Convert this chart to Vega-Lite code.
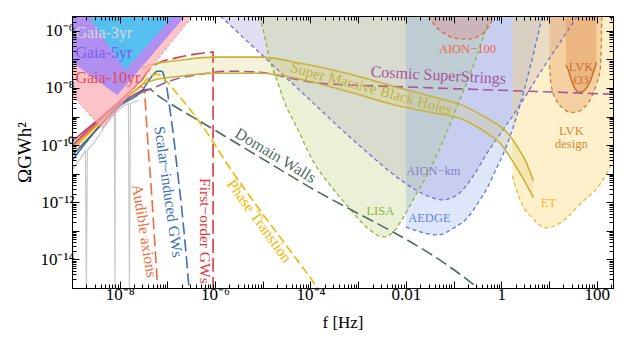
{
"$schema": "https://vega.github.io/schema/vega-lite/v6.json",
"width": 541, "height": 272,
"autosize": {"type": "none"},
"padding": {"left": 72, "top": 16, "right": 11, "bottom": 52},
"background": "white",
"config": {"view": {"stroke": "black", "strokeWidth": 1}},
"datasets": {
"d": [
{"k":"g10","f":1e-9,"o":5.53e-9},{"k":"g10","f":4.34e-9,"o":3.83e-10},{"k":"g10","f":3.34e-7,"o":3.31e-6},
{"k":"g5","f":1e-9,"o":8.0e-8},{"k":"g5","f":8.95e-9,"o":5.53e-9},{"k":"g5","f":2.38e-7,"o":3.31e-6},
{"k":"g3","f":2.21e-9,"o":3.31e-6},{"k":"g3","f":1.32e-8,"o":4.19e-8},{"k":"g3","f":1.34e-7,"o":3.31e-6},
{"k":"LISA","f":8.49e-6,"o":3.31e-6},{"k":"LISA","f":9.82e-6,"o":1.36e-6},{"k":"LISA","f":1.44e-5,"o":8.67e-8},{"k":"LISA","f":2.02e-5,"o":1.72e-8},{"k":"LISA","f":2.98e-5,"o":2.67e-9},{"k":"LISA","f":4.82e-5,"o":5.30e-10},{"k":"LISA","f":1.15e-4,"o":2.65e-11},{"k":"LISA","f":2.62e-4,"o":3.80e-12},{"k":"LISA","f":5.94e-4,"o":7.53e-13},{"k":"LISA","f":1.56e-3,"o":1.27e-13},{"k":"LISA","f":3.38e-3,"o":6.12e-14},{"k":"LISA","f":5.47e-3,"o":9.17e-14},{"k":"LISA","f":8.45e-3,"o":2.63e-13},{"k":"LISA","f":1.58e-2,"o":1.69e-12},{"k":"LISA","f":3.27e-2,"o":1.50e-11},{"k":"LISA","f":6.73e-2,"o":2.17e-10},{"k":"LISA","f":1.39e-1,"o":4.35e-9},{"k":"LISA","f":2.86e-1,"o":9.41e-8},{"k":"LISA","f":5.11e-1,"o":1.60e-6},{"k":"LISA","f":5.90e-1,"o":3.31e-6},
{"k":"AIONkm","f":1.29e-6,"o":3.31e-6},{"k":"AIONkm","f":5.50e-6,"o":3.44e-7},{"k":"AIONkm","f":2.34e-5,"o":3.56e-8},{"k":"AIONkm","f":9.96e-5,"o":3.70e-9},{"k":"AIONkm","f":4.24e-4,"o":3.83e-10},{"k":"AIONkm","f":1.56e-3,"o":5.49e-11},{"k":"AIONkm","f":7.67e-3,"o":6.18e-12},{"k":"AIONkm","f":2.82e-2,"o":1.69e-12},{"k":"AIONkm","f":5.80e-2,"o":1.22e-12},{"k":"AIONkm","f":1.20e-1,"o":1.84e-12},{"k":"AIONkm","f":2.60e-1,"o":8.54e-12},{"k":"AIONkm","f":5.11e-1,"o":5.49e-11},{"k":"AIONkm","f":1.22,"o":4.51e-10},{"k":"AIONkm","f":2.51,"o":2.67e-9},{"k":"AIONkm","f":6.61,"o":3.56e-8},{"k":"AIONkm","f":17.3,"o":4.04e-7},{"k":"AIONkm","f":39.4,"o":3.31e-6},
{"k":"AEDGE","f":0.01,"o":1.37e-13},{"k":"AEDGE","f":2.02e-2,"o":9.17e-14},{"k":"AEDGE","f":4.58e-2,"o":7.19e-14},{"k":"AEDGE","f":1.09e-1,"o":1.37e-13},{"k":"AEDGE","f":1.95e-1,"o":2.85e-13},{"k":"AEDGE","f":3.15e-1,"o":8.85e-13},{"k":"AEDGE","f":5.11e-1,"o":3.24e-12},{"k":"AEDGE","f":7.52e-1,"o":1.28e-11},{"k":"AEDGE","f":1.11,"o":5.07e-11},{"k":"AEDGE","f":1.55,"o":2.17e-10},{"k":"AEDGE","f":2.29,"o":1.64e-9},{"k":"AEDGE","f":4.07,"o":5.79e-8},{"k":"AEDGE","f":7.28,"o":3.31e-6},
{"k":"AION100","f":2.97e-2,"o":3.31e-6},{"k":"AION100","f":4.16e-2,"o":1.48e-6},{"k":"AION100","f":6.73e-2,"o":7.72e-7},{"k":"AION100","f":1.09e-1,"o":5.58e-7},{"k":"AION100","f":1.95e-1,"o":5.15e-7},{"k":"AION100","f":3.31e-1,"o":6.56e-7},{"k":"AION100","f":4.87e-1,"o":1.07e-6},{"k":"AION100","f":6.50e-1,"o":2.40e-6},{"k":"AION100","f":7.16e-1,"o":3.31e-6},
{"k":"ET","f":1.71,"o":8.54e-12},{"k":"ET","f":2.51,"o":1.13e-12},{"k":"ET","f":4.71,"o":2.63e-13},{"k":"ET","f":8.41,"o":1.27e-13},{"k":"ET","f":17.3,"o":1.90e-13},{"k":"ET","f":45.5,"o":8.85e-13},{"k":"ET","f":119.7,"o":4.46e-12},{"k":"ET","f":224,"o":2.87e-11},
{"k":"LVKd","f":10.2,"o":6.28e-8},{"k":"LVKd","f":11.2,"o":1.24e-8},{"k":"LVKd","f":14.3,"o":3.70e-9},{"k":"LVKd","f":20.0,"o":1.93e-9},{"k":"LVKd","f":28.1,"o":1.40e-9},{"k":"LVKd","f":41.3,"o":1.52e-9},{"k":"LVKd","f":57.9,"o":2.28e-9},{"k":"LVKd","f":77.4,"o":4.71e-9},{"k":"LVKd","f":98.6,"o":1.35e-8},{"k":"LVKd","f":119.7,"o":4.92e-8},{"k":"LVKd","f":128.5,"o":3.31e-6},
{"k":"O3","f":22.6,"o":6.28e-8},{"k":"O3","f":25.5,"o":4.19e-8},{"k":"O3","f":29.5,"o":1.87e-8},{"k":"O3","f":35.8,"o":9.00e-9},{"k":"O3","f":43.4,"o":7.06e-9},{"k":"O3","f":55.2,"o":8.30e-9},{"k":"O3","f":70.3,"o":1.46e-8},{"k":"O3","f":85.3,"o":3.56e-8},{"k":"O3","f":98.6,"o":8.00e-8},
{"k":"pta","f":1e-9,"o":1.28e-11},{"k":"pta","f":1.50e-9,"o":3.38e-11},{"k":"pta","f":1.91e-9,"o":6.46e-11},{"k":"pta","f":2.00e-9,"o":8e-16},{"k":"pta","f":2.10e-9,"o":6.46e-11},{"k":"pta","f":3.10e-9,"o":1.45e-10},{"k":"pta","f":3.94e-9,"o":2.56e-10},{"k":"pta","f":5.01e-9,"o":4.89e-10},{"k":"pta","f":6.38e-9,"o":8.61e-10},{"k":"pta","f":7.74e-9,"o":1.29e-9},{"k":"pta","f":7.94e-9,"o":8e-16},{"k":"pta","f":8.13e-9,"o":1.29e-9},{"k":"pta","f":1.035e-8,"o":1.93e-9},{"k":"pta","f":1.52e-8,"o":2.90e-9},{"k":"pta","f":1.60e-8,"o":8e-16},{"k":"pta","f":1.68e-8,"o":2.90e-9},{"k":"pta","f":2.47e-8,"o":3.70e-9},
{"k":"red_s","f":1e-9,"o":1.34e-10},{"k":"red_s","f":3.58e-9,"o":7.94e-10},{"k":"red_s","f":1.035e-8,"o":3.70e-9},{"k":"red_s","f":2.99e-8,"o":2.02e-8},
{"k":"blue_s","f":1e-9,"o":2.87e-11},{"k":"blue_s","f":3.58e-9,"o":4.16e-10},{"k":"blue_s","f":1.035e-8,"o":2.46e-9},{"k":"blue_s","f":2.99e-8,"o":8.30e-9},{"k":"blue_s","f":4.41e-8,"o":2.19e-8},{"k":"blue_s","f":6.17e-8,"o":3.86e-8},{"k":"blue_s","f":7.85e-8,"o":3.86e-8},
{"k":"orange_s","f":1e-9,"o":8.24e-11},{"k":"orange_s","f":3.58e-9,"o":6.23e-10},{"k":"orange_s","f":1.035e-8,"o":3.14e-9},{"k":"orange_s","f":2.47e-8,"o":9.76e-9},
{"k":"yellow_s","f":1e-9,"o":6.46e-11},{"k":"yellow_s","f":3.58e-9,"o":5.30e-10},{"k":"yellow_s","f":1.035e-8,"o":2.90e-9},{"k":"yellow_s","f":2.99e-8,"o":1.35e-8},
{"k":"green_s","f":1e-9,"o":4.31e-11},{"k":"green_s","f":3.58e-9,"o":4.16e-10},{"k":"green_s","f":1.035e-8,"o":2.67e-9},{"k":"green_s","f":2.99e-8,"o":8.30e-9},
{"k":"purple_s","f":1e-9,"o":9.68e-11},{"k":"purple_s","f":3.58e-9,"o":7.32e-10},{"k":"purple_s","f":1.035e-8,"o":3.14e-9},{"k":"purple_s","f":2.99e-8,"o":7.06e-9},
{"k":"red_d","f":2.99e-8,"o":2.02e-8},{"k":"red_d","f":4.41e-8,"o":4.92e-8},{"k":"red_d","f":7.13e-8,"o":8.00e-8},{"k":"red_d","f":1.47e-7,"o":1.11e-7},{"k":"red_d","f":3.86e-7,"o":1.53e-7},{"k":"red_d","f":9.08e-7,"o":1.80e-7},{"k":"red_d","f":9.09e-7,"o":5e-16},
{"k":"blue_d","f":7.85e-8,"o":3.86e-8},{"k":"blue_d","f":9.53e-8,"o":1.24e-8},{"k":"blue_d","f":1.10e-7,"o":2.46e-9},{"k":"blue_d","f":1.34e-7,"o":2.17e-10},{"k":"blue_d","f":1.62e-7,"o":1.28e-11},{"k":"blue_d","f":1.97e-7,"o":7.53e-13},{"k":"blue_d","f":2.38e-7,"o":2.96e-14},{"k":"blue_d","f":2.89e-7,"o":7e-16},
{"k":"orange_d","f":2.47e-8,"o":9.76e-9},{"k":"orange_d","f":2.85e-8,"o":1.15e-8},{"k":"orange_d","f":3.30e-8,"o":7.06e-9},{"k":"orange_d","f":3.63e-8,"o":7.32e-10},{"k":"orange_d","f":4.00e-8,"o":6.46e-11},{"k":"orange_d","f":4.62e-8,"o":2.53e-12},{"k":"orange_d","f":5.34e-8,"o":6.12e-14},{"k":"orange_d","f":6.17e-8,"o":1.36e-15},{"k":"orange_d","f":6.32e-8,"o":7e-16},
{"k":"yellow_d","f":2.99e-8,"o":1.35e-8},{"k":"yellow_d","f":4.41e-8,"o":2.58e-8},{"k":"yellow_d","f":6.17e-8,"o":3.03e-8},{"k":"yellow_d","f":8.24e-8,"o":2.19e-8},{"k":"yellow_d","f":1.70e-7,"o":5.54e-9},{"k":"yellow_d","f":3.34e-7,"o":1.40e-9},{"k":"yellow_d","f":5.69e-7,"o":4.16e-10},{"k":"yellow_d","f":2.09e-6,"o":1.50e-11},{"k":"yellow_d","f":8.91e-6,"o":5.02e-13},{"k":"yellow_d","f":3.79e-5,"o":1.97e-14},{"k":"yellow_d","f":1.27e-4,"o":1.26e-15},{"k":"yellow_d","f":1.61e-4,"o":7e-16},
{"k":"green_d","f":2.99e-8,"o":8.30e-9},{"k":"green_d","f":4.00e-8,"o":9.00e-9},{"k":"green_d","f":7.13e-8,"o":4.71e-9},{"k":"green_d","f":7.96e-7,"o":4.16e-10},{"k":"green_d","f":6.14e-5,"o":5.26e-12},{"k":"green_d","f":2.86e-1,"o":1.16e-15},{"k":"green_d","f":3.65e-1,"o":8.3e-16},
{"k":"purple_d","f":2.99e-8,"o":7.06e-9},{"k":"purple_d","f":4.85e-8,"o":9.76e-9},{"k":"purple_d","f":1.47e-7,"o":2.02e-8},{"k":"purple_d","f":4.92e-7,"o":3.03e-8},{"k":"purple_d","f":2.09e-6,"o":3.86e-8},{"k":"purple_d","f":8.91e-6,"o":3.56e-8},{"k":"purple_d","f":3.79e-5,"o":2.19e-8},{"k":"purple_d","f":1.61e-4,"o":1.46e-8},{"k":"purple_d","f":1.11e-3,"o":1.24e-8},{"k":"purple_d","f":1.58e-2,"o":1.06e-8},{"k":"purple_d","f":9.57e-1,"o":8.30e-9},{"k":"purple_d","f":17.3,"o":7.06e-9},{"k":"purple_d","f":224,"o":6.01e-9}
],
"smbh": [
{"f":2.99e-8,"hi":4.92e-8,"lo":1.35e-8},{"f":5.09e-8,"hi":6.81e-8,"lo":1.87e-8},{"f":1.87e-7,"hi":9.41e-8,"lo":2.58e-8},{"f":9.21e-7,"hi":1.20e-7,"lo":3.29e-8},{"f":8.91e-6,"hi":1.20e-7,"lo":3.29e-8},{"f":6.14e-5,"hi":7.38e-8,"lo":2.02e-8},{"f":6.87e-4,"hi":3.03e-8,"lo":7.06e-9},{"f":7.67e-3,"hi":9.76e-9,"lo":2.28e-9},{"f":3.27e-2,"hi":5.11e-9,"lo":1.40e-9},{"f":1.39e-1,"hi":2.67e-9,"lo":8.61e-10},{"f":5.11e-1,"hi":8.61e-10,"lo":2.56e-10},{"f":9.57e-1,"hi":4.51e-10,"lo":1.14e-10},{"f":1.55,"hi":2.00e-10,"lo":3.66e-11},{"f":2.29,"hi":7.59e-11,"lo":1.28e-11},{"f":3.20,"hi":2.87e-11,"lo":4.84e-12},{"f":4.71,"hi":5.70e-12,"lo":1.44e-12}
],
"lab": [
{"id":"g3","t":"Gaia-3yr","f":1.18e-9,"o":5.58e-7},
{"id":"g5","t":"Gaia-5yr","f":1.18e-9,"o":1.11e-7},
{"id":"g10","t":"Gaia-10yr","f":1.18e-9,"o":1.46e-8},
{"id":"cs","t":"Cosmic SuperStrings","f":4.80e-2,"o":2.79e-8},
{"id":"smbh","t":"Super Massive Black Holes","f":1.89e-3,"o":9.76e-9},
{"id":"a100","t":"AION−100","f":1.95e-1,"o":2.29e-7},
{"id":"o3","t":"LVK\nO3","f":47,"o":5.34e-8},
{"id":"lvkd","t":"LVK\ndesign","f":29.5,"o":3.13e-10},
{"id":"dw","t":"Domain Walls","f":1.84e-5,"o":4.31e-11},
{"id":"akm","t":"AION−km","f":3.77e-2,"o":1.28e-11},
{"id":"lisa","t":"LISA","f":2.92e-3,"o":5.02e-13},
{"id":"aedge","t":"AEDGE","f":3.11e-2,"o":2.85e-13},
{"id":"et","t":"ET","f":9.72,"o":9.59e-13},
{"id":"pt","t":"Phase Transtion","f":8.49e-6,"o":2.23e-13},
{"id":"fo","t":"First−order GWs","f":6.26e-7,"o":9.95e-14},
{"id":"si","t":"Scalar−induced GWs","f":1.05e-7,"o":2.34e-12},
{"id":"ax","t":"Audible axions","f":3.30e-8,"o":9.95e-14}
]
},
"data": {"name": "d"},
"encoding": {
"x": {"field": "f", "type": "quantitative", "scale": {"type": "log", "domain": [1e-9, 220], "nice": false}, "axis": null},
"y": {"field": "o", "type": "quantitative", "scale": {"type": "log", "domain": [1e-15, 3.31e-6], "nice": false}, "axis": null}
},
"layer": [
{"transform": [{"filter": "datum.k=='AIONkm'"}], "mark": {"type": "area", "color": "#9a94d8", "opacity": 0.3, "clip": true, "interpolate": "monotone"},
 "encoding": {
  "x": {"field": "f", "type": "quantitative", "scale": {"type": "log", "domain": [1e-9, 220], "nice": false},
   "axis": {"orient": "bottom", "values": [1e-9,2e-9,3e-9,4e-9,5e-9,6e-9,7e-9,8e-9,9e-9,1e-8,2e-8,3e-8,4e-8,5e-8,6e-8,7e-8,8e-8,9e-8,1e-7,2e-7,3e-7,4e-7,5e-7,6e-7,7e-7,8e-7,9e-7,1e-6,2e-6,3e-6,4e-6,5e-6,6e-6,7e-6,8e-6,9e-6,1e-5,2e-5,3e-5,4e-5,5e-5,6e-5,7e-5,8e-5,9e-5,1e-4,2e-4,3e-4,4e-4,5e-4,6e-4,7e-4,8e-4,9e-4,0.001,0.002,0.003,0.004,0.005,0.006,0.007,0.008,0.009,0.01,0.02,0.03,0.04,0.05,0.06,0.07,0.08,0.09,0.1,0.2,0.3,0.4,0.5,0.6,0.7,0.8,0.9,1,2,3,4,5,6,7,8,9,10,20,30,40,50,60,70,80,90,100,200],
    "labelExpr": "datum.value==1e-8?'10⁻⁸':datum.value==1e-6?'10⁻⁶':datum.value==1e-4?'10⁻⁴':datum.value==0.01?'0.01':datum.value==1?'1':datum.value==100?'100':''",
    "tickSize": {"condition": {"test": "abs(log(datum.value)/LN10-round(log(datum.value)/LN10))<0.01", "value": -7}, "value": -4},
    "tickColor": "black", "tickWidth": 1, "domainColor": "black", "grid": false, "zindex": 1,
    "labelFont": "Liberation Serif", "labelFontSize": 17, "labelColor": "black", "labelPadding": 5, "labelOverlap": false, "labelFlush": false, "labelBound": false,
    "title": "f [Hz]", "titleFont": "Liberation Serif", "titleFontSize": 17, "titleFontWeight": "normal", "titleColor": "black", "titlePadding": 9}},
  "y": {"field": "o", "type": "quantitative", "scale": {"type": "log", "domain": [1e-15, 3.31e-6], "nice": false},
   "axis": {"orient": "left", "values": [1e-15,2e-15,3e-15,4e-15,5e-15,6e-15,7e-15,8e-15,9e-15,1e-14,2e-14,3e-14,4e-14,5e-14,6e-14,7e-14,8e-14,9e-14,1e-13,2e-13,3e-13,4e-13,5e-13,6e-13,7e-13,8e-13,9e-13,1e-12,2e-12,3e-12,4e-12,5e-12,6e-12,7e-12,8e-12,9e-12,1e-11,2e-11,3e-11,4e-11,5e-11,6e-11,7e-11,8e-11,9e-11,1e-10,2e-10,3e-10,4e-10,5e-10,6e-10,7e-10,8e-10,9e-10,1e-9,2e-9,3e-9,4e-9,5e-9,6e-9,7e-9,8e-9,9e-9,1e-8,2e-8,3e-8,4e-8,5e-8,6e-8,7e-8,8e-8,9e-8,1e-7,2e-7,3e-7,4e-7,5e-7,6e-7,7e-7,8e-7,9e-7,1e-6,2e-6,3e-6],
    "labelExpr": "datum.value==1e-6?'10⁻⁶':datum.value==1e-8?'10⁻⁸':datum.value==1e-10?'10⁻¹⁰':datum.value==1e-12?'10⁻¹²':datum.value==1e-14?'10⁻¹⁴':''",
    "tickSize": {"condition": {"test": "abs(log(datum.value)/LN10-round(log(datum.value)/LN10))<0.01", "value": -7}, "value": -4},
    "tickColor": "black", "tickWidth": 1, "domainColor": "black", "grid": false, "zindex": 1,
    "labelFont": "Liberation Serif", "labelFontSize": 17, "labelColor": "black", "labelPadding": 5, "labelOverlap": false, "labelFlush": false, "labelBound": false,
    "title": "ΩGWh²", "titleFont": "Liberation Serif", "titleFontSize": 19, "titleFontWeight": "normal", "titleColor": "black", "titlePadding": 5}},
  "y2": {"datum": 3.31e-6}}},
{"transform": [{"filter": "datum.k=='LISA'"}], "mark": {"type": "area", "color": "#c5d68a", "opacity": 0.35, "clip": true, "interpolate": "monotone"},
 "encoding": {
  "x": {"field": "f", "type": "quantitative", "scale": {"type": "log", "domain": [1e-9, 220], "nice": false},
   "axis": {"orient": "top", "values": [1e-9,2e-9,3e-9,4e-9,5e-9,6e-9,7e-9,8e-9,9e-9,1e-8,2e-8,3e-8,4e-8,5e-8,6e-8,7e-8,8e-8,9e-8,1e-7,2e-7,3e-7,4e-7,5e-7,6e-7,7e-7,8e-7,9e-7,1e-6,2e-6,3e-6,4e-6,5e-6,6e-6,7e-6,8e-6,9e-6,1e-5,2e-5,3e-5,4e-5,5e-5,6e-5,7e-5,8e-5,9e-5,1e-4,2e-4,3e-4,4e-4,5e-4,6e-4,7e-4,8e-4,9e-4,0.001,0.002,0.003,0.004,0.005,0.006,0.007,0.008,0.009,0.01,0.02,0.03,0.04,0.05,0.06,0.07,0.08,0.09,0.1,0.2,0.3,0.4,0.5,0.6,0.7,0.8,0.9,1,2,3,4,5,6,7,8,9,10,20,30,40,50,60,70,80,90,100,200],
    "labels": false, "title": null,
    "tickSize": {"condition": {"test": "abs(log(datum.value)/LN10-round(log(datum.value)/LN10))<0.01", "value": -7}, "value": -4},
    "tickColor": "black", "tickWidth": 1, "domainColor": "black", "grid": false, "zindex": 1}},
  "y": {"field": "o", "type": "quantitative", "scale": {"type": "log", "domain": [1e-15, 3.31e-6], "nice": false},
   "axis": {"orient": "right", "values": [1e-15,2e-15,3e-15,4e-15,5e-15,6e-15,7e-15,8e-15,9e-15,1e-14,2e-14,3e-14,4e-14,5e-14,6e-14,7e-14,8e-14,9e-14,1e-13,2e-13,3e-13,4e-13,5e-13,6e-13,7e-13,8e-13,9e-13,1e-12,2e-12,3e-12,4e-12,5e-12,6e-12,7e-12,8e-12,9e-12,1e-11,2e-11,3e-11,4e-11,5e-11,6e-11,7e-11,8e-11,9e-11,1e-10,2e-10,3e-10,4e-10,5e-10,6e-10,7e-10,8e-10,9e-10,1e-9,2e-9,3e-9,4e-9,5e-9,6e-9,7e-9,8e-9,9e-9,1e-8,2e-8,3e-8,4e-8,5e-8,6e-8,7e-8,8e-8,9e-8,1e-7,2e-7,3e-7,4e-7,5e-7,6e-7,7e-7,8e-7,9e-7,1e-6,2e-6,3e-6],
    "labels": false, "title": null,
    "tickSize": {"condition": {"test": "abs(log(datum.value)/LN10-round(log(datum.value)/LN10))<0.01", "value": -7}, "value": -4},
    "tickColor": "black", "tickWidth": 1, "domainColor": "black", "grid": false, "zindex": 1}},
  "y2": {"datum": 3.31e-6}}},
{"transform": [{"filter": "datum.k=='AEDGE'"}], "mark": {"type": "area", "color": "#7d9be8", "opacity": 0.25, "clip": true, "interpolate": "monotone"}, "encoding": {"y2": {"datum": 3.31e-6}}},
{"transform": [{"filter": "datum.k=='AION100'"}], "mark": {"type": "area", "color": "#e08080", "opacity": 0.3, "clip": true, "interpolate": "monotone"}, "encoding": {"y2": {"datum": 3.31e-6}}},
{"transform": [{"filter": "datum.k=='ET'"}], "mark": {"type": "area", "color": "#fbd36b", "opacity": 0.35, "clip": true, "interpolate": "monotone"}, "encoding": {"y2": {"datum": 3.31e-6}}},
{"transform": [{"filter": "datum.k=='LVKd'"}], "mark": {"type": "area", "color": "#e8a060", "opacity": 0.4, "clip": true, "interpolate": "monotone"}, "encoding": {"y2": {"datum": 3.31e-6}}},
{"transform": [{"filter": "datum.k=='O3'"}], "mark": {"type": "area", "color": "#e08a48", "opacity": 0.35, "clip": true, "interpolate": "monotone"}, "encoding": {"y2": {"datum": 3.31e-6}}},
{"data": {"name": "smbh"}, "mark": {"type": "area", "color": "#d8cc6a", "opacity": 0.25, "clip": true, "interpolate": "monotone"},
 "encoding": {"y": {"field": "hi", "type": "quantitative", "scale": {"type": "log", "domain": [1e-15, 3.31e-6], "nice": false}, "axis": null}, "y2": {"field": "lo"}}},
{"transform": [{"filter": "indexof(['LISA','AIONkm','AEDGE','AION100','ET','LVKd'], datum.k) >= 0"}], "mark": {"type": "line", "strokeWidth": 1.3, "strokeDash": [4, 3], "clip": true, "interpolate": "monotone"},
 "encoding": {"color": {"field": "k", "type": "nominal", "legend": null, "scale": {"domain": ["LISA","AIONkm","AEDGE","AION100","ET","LVKd"], "range": ["#8db43a","#7b6fcf","#5478e6","#f0603a","#f3b62d","#cf7f33"]}}}},
{"transform": [{"filter": "datum.k=='O3'"}], "mark": {"type": "line", "strokeWidth": 1.5, "color": "#c8702a", "clip": true, "interpolate": "monotone"}},
{"transform": [{"filter": "datum.k=='pta'"}], "mark": {"type": "line", "strokeWidth": 1.2, "color": "#c8c8c8", "clip": true}},
{"transform": [{"filter": "indexof(['red_s','blue_s','orange_s','yellow_s','green_s','purple_s'], datum.k) >= 0"}], "mark": {"type": "line", "strokeWidth": 1.6, "clip": true, "interpolate": "monotone"},
 "encoding": {"color": {"field": "k", "type": "nominal", "legend": null, "scale": {"domain": ["red_s","blue_s","orange_s","yellow_s","green_s","purple_s"], "range": ["#e0393e","#3b6fb6","#f26b3a","#f3b700","#4d6c5c","#a6559d"]}}}},
{"transform": [{"filter": "indexof(['red_d','blue_d','orange_d','yellow_d','green_d','purple_d'], datum.k) >= 0"}], "mark": {"type": "line", "strokeWidth": 1.6, "clip": true, "interpolate": "monotone"},
 "encoding": {"color": {"field": "k", "type": "nominal", "legend": null, "scale": {"domain": ["red_d","blue_d","orange_d","yellow_d","green_d","purple_d"], "range": ["#e0393e","#3b6fb6","#f26b3a","#f3b700","#4d6c5c","#a6559d"]}},
  "strokeDash": {"field": "k", "type": "nominal", "legend": null, "scale": {"domain": ["red_d","blue_d","orange_d","yellow_d","green_d","purple_d"], "range": [[14,5],[12,5],[12,5],[9,4],[12,5],[10,5]]}}}},
{"data": {"name": "smbh"}, "mark": {"type": "line", "color": "#c9b236", "strokeWidth": 1.6, "clip": true, "interpolate": "monotone"},
 "encoding": {"y": {"field": "hi", "type": "quantitative", "scale": {"type": "log", "domain": [1e-15, 3.31e-6], "nice": false}, "axis": null}}},
{"data": {"name": "smbh"}, "mark": {"type": "line", "color": "#c9b236", "strokeWidth": 1.6, "clip": true, "interpolate": "monotone"},
 "encoding": {"y": {"field": "lo", "type": "quantitative", "scale": {"type": "log", "domain": [1e-15, 3.31e-6], "nice": false}, "axis": null}}},
{"transform": [{"filter": "datum.k=='g10'"}], "mark": {"type": "area", "color": "#fba9b2", "opacity": 0.7, "clip": true}, "encoding": {"y2": {"datum": 3.31e-6}}},
{"transform": [{"filter": "datum.k=='g5'"}], "mark": {"type": "area", "color": "#a386f7", "opacity": 0.85, "clip": true}, "encoding": {"y2": {"datum": 3.31e-6}}},
{"transform": [{"filter": "datum.k=='g3'"}], "mark": {"type": "area", "color": "#45c8f0", "opacity": 0.85, "clip": true}, "encoding": {"y2": {"datum": 3.31e-6}}},
{"transform": [{"filter": "datum.k=='g10'"}], "mark": {"type": "line", "color": "#f08a98", "strokeWidth": 1, "strokeDash": [3, 2], "clip": true}},
{"data": {"name": "lab"}, "transform": [{"filter": "datum.id=='g3'"}], "mark": {"type": "text", "font": "Liberation Serif", "fontSize": 16, "color": "#d8d8e4", "align": "left", "baseline": "alphabetic"}, "encoding": {"text": {"field": "t"}}},
{"data": {"name": "lab"}, "transform": [{"filter": "datum.id=='g5'"}], "mark": {"type": "text", "font": "Liberation Serif", "fontSize": 16, "color": "#7b5cf2", "align": "left", "baseline": "alphabetic"}, "encoding": {"text": {"field": "t"}}},
{"data": {"name": "lab"}, "transform": [{"filter": "datum.id=='g10'"}], "mark": {"type": "text", "font": "Liberation Serif", "fontSize": 16, "color": "#e8475a", "align": "left", "baseline": "alphabetic"}, "encoding": {"text": {"field": "t"}}},
{"data": {"name": "lab"}, "transform": [{"filter": "datum.id=='cs'"}], "mark": {"type": "text", "font": "Liberation Serif", "fontSize": 16, "color": "#a6559d", "align": "center", "baseline": "middle", "angle": 3}, "encoding": {"text": {"field": "t"}}},
{"data": {"name": "lab"}, "transform": [{"filter": "datum.id=='smbh'"}], "mark": {"type": "text", "font": "Liberation Serif", "fontSize": 15, "color": "#c9b236", "align": "center", "baseline": "middle", "angle": 15}, "encoding": {"text": {"field": "t"}}},
{"data": {"name": "lab"}, "transform": [{"filter": "datum.id=='a100'"}], "mark": {"type": "text", "font": "Liberation Serif", "fontSize": 12.5, "color": "#f06640", "align": "center", "baseline": "middle"}, "encoding": {"text": {"field": "t"}}},
{"data": {"name": "lab"}, "transform": [{"filter": "datum.id=='o3'"}], "mark": {"type": "text", "font": "Liberation Serif", "fontSize": 12.5, "color": "#c8742d", "align": "center", "baseline": "middle", "lineBreak": "\n", "lineHeight": 13}, "encoding": {"text": {"field": "t"}}},
{"data": {"name": "lab"}, "transform": [{"filter": "datum.id=='lvkd'"}], "mark": {"type": "text", "font": "Liberation Serif", "fontSize": 12.5, "color": "#d58a3a", "align": "center", "baseline": "middle", "lineBreak": "\n", "lineHeight": 13}, "encoding": {"text": {"field": "t"}}},
{"data": {"name": "lab"}, "transform": [{"filter": "datum.id=='dw'"}], "mark": {"type": "text", "font": "Liberation Serif", "fontSize": 16, "color": "#4d6c5c", "align": "center", "baseline": "middle", "angle": 31}, "encoding": {"text": {"field": "t"}}},
{"data": {"name": "lab"}, "transform": [{"filter": "datum.id=='akm'"}], "mark": {"type": "text", "font": "Liberation Serif", "fontSize": 12.5, "color": "#8a7fc8", "align": "center", "baseline": "middle"}, "encoding": {"text": {"field": "t"}}},
{"data": {"name": "lab"}, "transform": [{"filter": "datum.id=='lisa'"}], "mark": {"type": "text", "font": "Liberation Serif", "fontSize": 12.5, "color": "#8db43a", "align": "center", "baseline": "middle"}, "encoding": {"text": {"field": "t"}}},
{"data": {"name": "lab"}, "transform": [{"filter": "datum.id=='aedge'"}], "mark": {"type": "text", "font": "Liberation Serif", "fontSize": 12.5, "color": "#6585e5", "align": "center", "baseline": "middle"}, "encoding": {"text": {"field": "t"}}},
{"data": {"name": "lab"}, "transform": [{"filter": "datum.id=='et'"}], "mark": {"type": "text", "font": "Liberation Serif", "fontSize": 12.5, "color": "#f3b62d", "align": "center", "baseline": "middle"}, "encoding": {"text": {"field": "t"}}},
{"data": {"name": "lab"}, "transform": [{"filter": "datum.id=='pt'"}], "mark": {"type": "text", "font": "Liberation Serif", "fontSize": 15.5, "color": "#f3b700", "align": "center", "baseline": "middle", "angle": 54}, "encoding": {"text": {"field": "t"}}},
{"data": {"name": "lab"}, "transform": [{"filter": "datum.id=='fo'"}], "mark": {"type": "text", "font": "Liberation Serif", "fontSize": 15.5, "color": "#e0393e", "align": "center", "baseline": "middle", "angle": 90}, "encoding": {"text": {"field": "t"}}},
{"data": {"name": "lab"}, "transform": [{"filter": "datum.id=='si'"}], "mark": {"type": "text", "font": "Liberation Serif", "fontSize": 15.5, "color": "#3b6fb6", "align": "center", "baseline": "middle", "angle": 82}, "encoding": {"text": {"field": "t"}}},
{"data": {"name": "lab"}, "transform": [{"filter": "datum.id=='ax'"}], "mark": {"type": "text", "font": "Liberation Serif", "fontSize": 15.5, "color": "#f26b3a", "align": "center", "baseline": "middle", "angle": 81}, "encoding": {"text": {"field": "t"}}}
],
"resolve": {"axis": {"x": "independent", "y": "independent"}, "scale": {"color": "independent", "strokeDash": "independent"}}
}
